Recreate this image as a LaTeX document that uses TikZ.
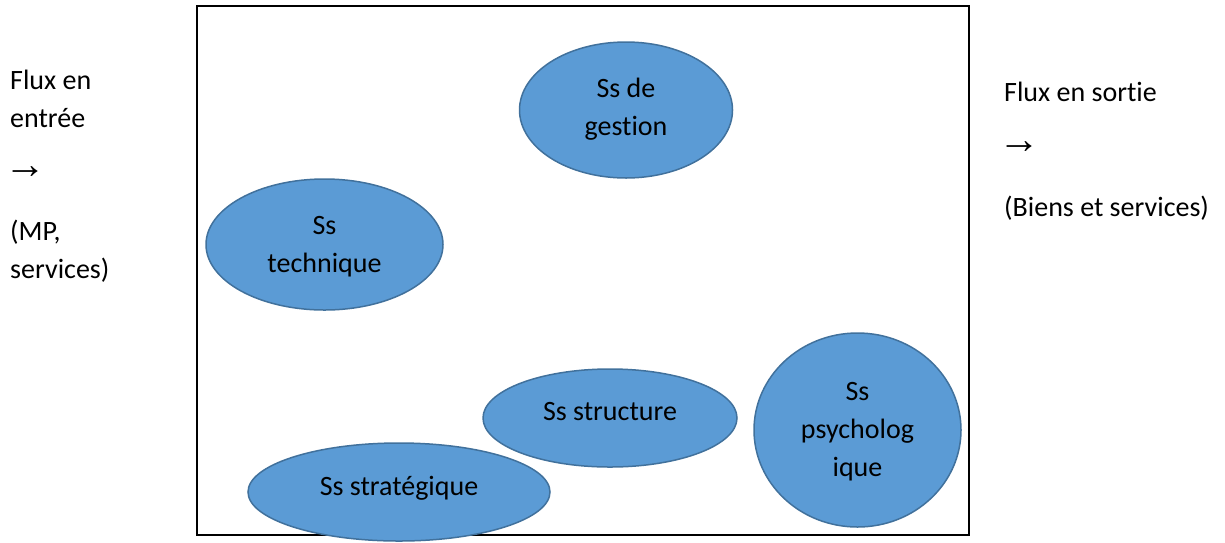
\documentclass[tikz,border=0pt]{standalone}
\usepackage{fontspec}
\setmainfont{Carlito}[Ligatures=NoCommon]
\newfontfamily\symfont{Liberation Sans}
\usetikzlibrary{shapes.geometric}
\definecolor{ssfill}{HTML}{5B9BD5}
\definecolor{ssline}{HTML}{41719C}
\tikzset{
  sysbox/.style={draw=black, line width=2.2pt},
  subsys/.style={ellipse, draw=ssline, fill=ssfill, line width=1.5pt, inner sep=0pt},
  lbl/.style={inner sep=0pt, anchor=base, font=\fontsize{28}{38}\selectfont},
  side/.style={inner sep=0pt, anchor=base west, font=\fontsize{28}{38}\selectfont},
  arr/.style={inner sep=0pt, anchor=west, font=\symfont\fontsize{42}{42}\selectfont}
}
\begin{document}
\begin{tikzpicture}[x=1pt, y=-1pt]
\useasboundingbox (0,0) rectangle (1225,542);

% the enterprise as a system
\draw[sysbox] (197,6) rectangle (969,535);

% subsystems
\node[subsys, minimum width=213pt, minimum height=136pt] (gestion) at (626,110) {};
\node[subsys, minimum width=237pt, minimum height=131pt] (technique) at (324.5,244.5) {};
\node[subsys, minimum width=254pt, minimum height=98pt] (structure) at (610,418) {};
\node[subsys, minimum width=302pt, minimum height=98pt] (strategique) at (399,492) {};
\node[subsys, minimum width=207pt, minimum height=194pt] (psycho) at (857.5,430) {};

\node[lbl] (g1) at (626,97) {Ss de};
\node[lbl] (g2) at (626,135) {gestion};
\node[lbl] (t1) at (324.5,234) {Ss};
\node[lbl] (t2) at (324.5,272) {technique};
\node[lbl] (s1) at (610,420) {Ss structure};
\node[lbl] (r1) at (399,495) {Ss stratégique};
\node[lbl] (p1) at (857.5,400) {Ss};
\node[lbl] (p2) at (857.5,438) {psycholog};
\node[lbl] (p3) at (857.5,476) {ique};

% incoming flow
\node[side] (in1) at (10,89) {Flux en};
\node[side] (in2) at (10,127) {entrée};
\node[arr] (inarr) at (4,173) {→};
\node[side] (in3) at (10,240) {(MP,};
\node[side] (in4) at (10,278) {services)};

% outgoing flow
\node[side] (out1) at (1004,101) {Flux en sortie};
\node[arr] (outarr) at (998,148) {→};
\node[side] (out2) at (1004,216) {(Biens et services)};
\end{tikzpicture}
\end{document}
